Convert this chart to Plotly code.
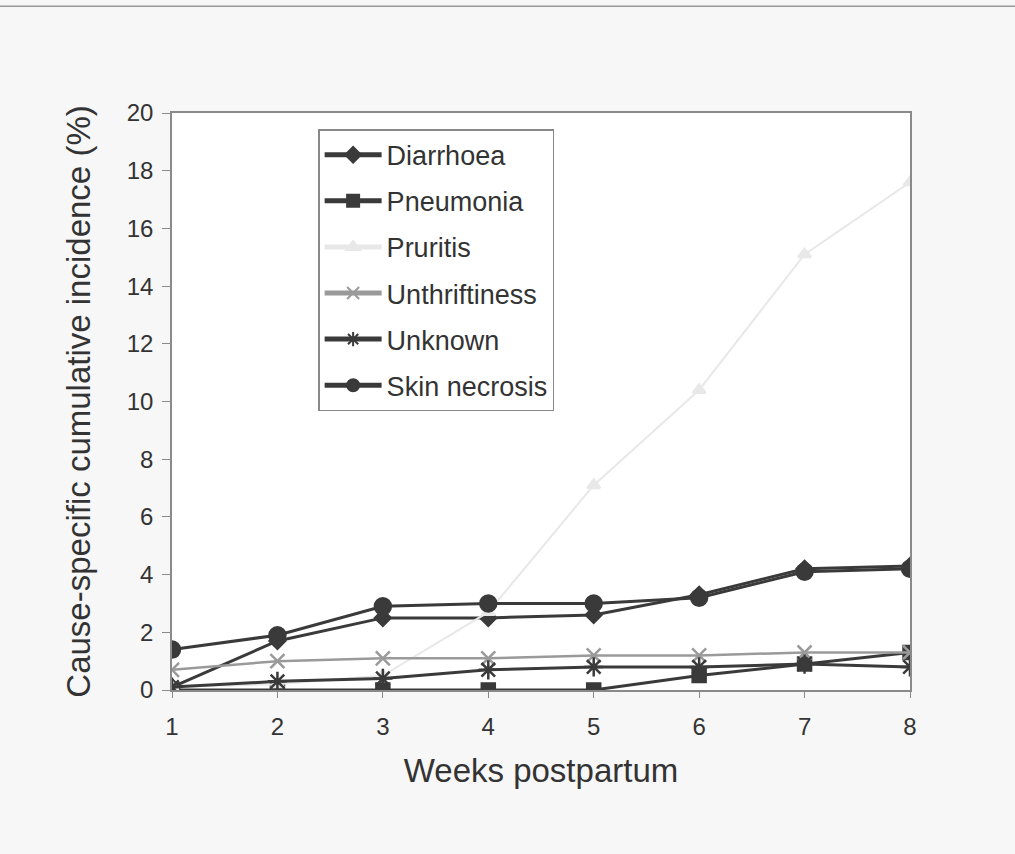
import plotly.graph_objects as go

weeks = [1, 2, 3, 4, 5, 6, 7, 8]
diarrhoea = [0.1, 1.7, 2.5, 2.5, 2.6, 3.3, 4.2, 4.3]
pneumonia = [0.0, 0.0, 0.0, 0.0, 0.0, 0.5, 0.9, 1.3]
pruritis = [0.1, 0.2, 0.5, 2.7, 7.1, 10.4, 15.1, 17.6]
unthriftiness = [0.7, 1.0, 1.1, 1.1, 1.2, 1.2, 1.3, 1.3]
unknown = [0.1, 0.3, 0.4, 0.7, 0.8, 0.8, 0.9, 0.8]
skin_necrosis = [1.4, 1.9, 2.9, 3.0, 3.0, 3.2, 4.1, 4.2]
y_ticks = [0, 2, 4, 6, 8, 10, 12, 14, 16, 18, 20]

series = [
    ("Diarrhoea", diarrhoea, "#3a3a3a", "diamond", 12, 3),
    ("Pneumonia", pneumonia, "#3a3a3a", "square", 13, 3),
    ("Pruritis", pruritis, "#e8e8e8", "triangle-up", 11, 2),
    ("Unthriftiness", unthriftiness, "#9a9a9a", "x-thin-open", 14, 2.5),
    ("Unknown", unknown, "#3a3a3a", "asterisk-open", 16, 3),
    ("Skin necrosis", skin_necrosis, "#3a3a3a", "circle", 16, 3),
]

fig = go.Figure()
for name, vals, col, sym, size, lw in series:
    fig.add_trace(go.Scatter(
        x=weeks, y=vals, name=name, mode="lines+markers", legendgroup=name,
        line=dict(color=col, width=lw),
        marker=dict(symbol=sym, size=size, color=col,
                    line=dict(color=col, width=2.5)),
    ))

fig.update_layout(
    width=1015, height=854,
    margin=dict(l=172, r=105, t=113, b=164),
    paper_bgcolor="#f7f7f7",
    plot_bgcolor="#ffffff",
    font=dict(family="Liberation Sans, Arial, sans-serif", color="#333333"),
    showlegend=True,
    legend=dict(
        x=0.198, y=0.972, xanchor="left", yanchor="top",
        bgcolor="#ffffff", bordercolor="#888888", borderwidth=1.5,
        font=dict(size=27, color="#333333"),
        tracegroupgap=8, itemsizing="constant", itemwidth=57,
    ),
    shapes=[
        dict(type="line", xref="paper", yref="paper", x0=-0.3, x1=1.2, y0=1.185, y1=1.185,
             line=dict(color="#9a9a9a", width=1.5)),
    ],
)
fig.update_xaxes(
    range=[1, 8], tickvals=weeks, ticktext=[str(w) for w in weeks],
    showgrid=False, zeroline=False, showline=True, linecolor="#8a8a8a", linewidth=1.5,
    mirror=True, ticks="outside", ticklen=6, tickcolor="#8a8a8a",
    ticklabelstandoff=8,
    tickfont=dict(size=24, color="#333333"),
    title=dict(text="Weeks postpartum", font=dict(size=33, color="#333333"), standoff=20),
)
fig.update_yaxes(
    range=[0, 20], tickvals=y_ticks,
    showgrid=False, zeroline=False, showline=True, linecolor="#8a8a8a", linewidth=1.5,
    mirror=True, ticks="outside", ticklen=8, tickcolor="#8a8a8a",
    ticklabelstandoff=4,
    tickfont=dict(size=24, color="#333333"),
    title=dict(text="Cause-specific cumulative incidence (%)", font=dict(size=33, color="#333333"), standoff=26),
)
fig.write_html("out.html")
